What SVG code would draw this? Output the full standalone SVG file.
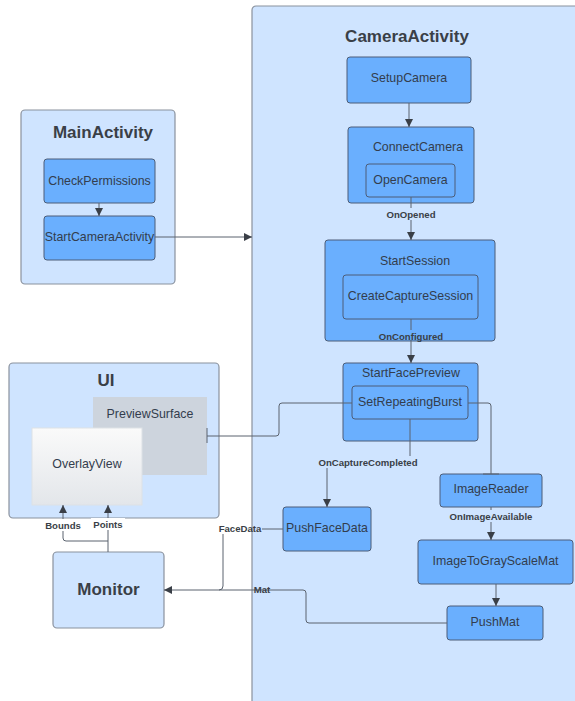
<svg xmlns="http://www.w3.org/2000/svg" width="575" height="701" viewBox="0 0 575 701">
<defs>
<marker id="arr" viewBox="0 0 10 10" refX="10" refY="5" markerWidth="8" markerHeight="8" markerUnits="userSpaceOnUse" orient="auto">
<path d="M0,0 L10,5 L0,10 z" fill="#3a3f47"/>
</marker>
<linearGradient id="ov" x1="0" y1="0" x2="0" y2="1">
<stop offset="0" stop-color="#fafafa"/>
<stop offset="1" stop-color="#e3e6ea"/>
</linearGradient>
<style>
.cont{fill:#cfe4ff;stroke:#8a929e;stroke-width:1.2}
.node{fill:#6aaffe;stroke:#4c5d78;stroke-width:1}
.inner{fill:#6aaffe;stroke:#4c5d78;stroke-width:1}
.title{font-family:"Liberation Sans",Arial,sans-serif;font-weight:bold;font-size:17px;fill:#3a3f47;text-anchor:middle}
.t{font-family:"Liberation Sans",Arial,sans-serif;font-size:12.4px;fill:#333d4d;text-anchor:middle;dominant-baseline:central}
.lbl{font-family:"Liberation Sans",Arial,sans-serif;font-weight:bold;font-size:9.6px;fill:#3a3f47;text-anchor:middle;dominant-baseline:central}
.c{fill:none;stroke:#5a626e;stroke-width:1}
.ca{fill:none;stroke:#5a626e;stroke-width:1;marker-end:url(#arr)}
</style>
</defs>
<rect width="575" height="701" fill="#ffffff"/>

<g id="CameraActivity">
<rect class="cont" x="252" y="6" width="340" height="720" rx="4"/>
<text class="title" x="407" y="42">CameraActivity</text>
</g>
<g id="MainActivity">
<rect class="cont" x="21" y="110" width="154" height="174" rx="4"/>
<text class="title" x="103" y="138">MainActivity</text>
</g>
<g id="UI">
<rect class="cont" x="9" y="363" width="210" height="155" rx="4"/>
<text class="title" x="106" y="386">UI</text>
</g>

<g id="CheckPermissions">
<rect class="node" x="44" y="159" width="111" height="44" rx="3"/>
<text class="t" x="99.5" y="181">CheckPermissions</text>
</g>
<g id="StartCameraActivity">
<rect class="node" x="44" y="216" width="111" height="44" rx="3"/>
<text class="t" x="99.5" y="237">StartCameraActivity</text>
</g>

<g id="PreviewSurface">
<rect x="93" y="397" width="114" height="78" fill="#cdd4dd"/>
<text class="t" x="150" y="414">PreviewSurface</text>
</g>
<g id="OverlayView">
<rect x="32" y="428" width="110" height="77" fill="url(#ov)" stroke="#dde1e6" stroke-width="1"/>
<text class="t" x="87" y="464">OverlayView</text>
</g>

<g id="Monitor">
<rect class="cont" x="53" y="552" width="111" height="76" rx="4" stroke="#5c6575"/>
<text class="title" x="108.5" y="595">Monitor</text>
</g>

<g id="SetupCamera">
<rect class="node" x="347" y="57" width="124" height="46" rx="3"/>
<text class="t" x="409" y="78">SetupCamera</text>
</g>
<g id="ConnectCamera">
<rect class="node" x="348" y="127" width="126" height="76" rx="3"/>
<text class="t" x="418" y="147">ConnectCamera</text>
</g>
<g id="OpenCamera">
<rect class="inner" x="366" y="164" width="89" height="33" rx="3"/>
<text class="t" x="410.5" y="180">OpenCamera</text>
</g>
<g id="StartSession">
<rect class="node" x="325" y="240" width="170" height="101" rx="3"/>
<text class="t" x="415" y="261">StartSession</text>
</g>
<g id="CreateCaptureSession">
<rect class="inner" x="343" y="275" width="135" height="44" rx="3"/>
<text class="t" x="410.5" y="296">CreateCaptureSession</text>
</g>
<g id="StartFacePreview">
<rect class="node" x="343" y="363" width="135" height="78" rx="3"/>
<text class="t" x="411" y="373">StartFacePreview</text>
</g>
<g id="SetRepeatingBurst">
<rect class="inner" x="352" y="386" width="116" height="33" rx="3"/>
<text class="t" x="410" y="402">SetRepeatingBurst</text>
</g>
<g id="PushFaceData">
<rect class="node" x="283" y="507" width="88" height="44" rx="3"/>
<text class="t" x="327" y="528">PushFaceData</text>
</g>
<g id="ImageReader">
<rect class="node" x="440" y="474" width="102" height="33" rx="3"/>
<text class="t" x="491" y="489">ImageReader</text>
</g>
<g id="ImageToGrayScaleMat">
<rect class="node" x="418" y="540" width="155" height="44" rx="3"/>
<text class="t" x="495.5" y="561">ImageToGrayScaleMat</text>
</g>
<g id="PushMat">
<rect class="node" x="447" y="606" width="96" height="34" rx="3"/>
<text class="t" x="495" y="622">PushMat</text>
</g>

<g id="connectors">
<path class="ca" d="M99,203 V216"/>
<path class="ca" d="M155,237 H252"/>
<path class="ca" d="M409,103 V127"/>
<path class="ca" d="M411,197 V240"/>
<path class="ca" d="M411,319 V363"/>
<path class="c" d="M352,403 H282 Q279,403 279,406 V433 Q279,436 276,436 H207"/>
<path class="c" d="M207,428 V443"/>
<path class="c" d="M468,403 H488 Q491,403 491,406 V474"/>
<path class="c" d="M483,474 H499"/>
<path class="ca" d="M410,419 V462 H327 V507"/>
<path class="ca" d="M491,507 V540"/>
<path class="ca" d="M496,584 V606"/>
<path class="ca" d="M447,623 H309 Q306,623 306,620 V593 Q306,590 303,590 H164"/>
<path class="c" d="M283,529 H262"/>
<path class="c" d="M223,534 V586 Q223,590 219,590"/>
<path class="ca" d="M108,552 V505"/>
<path class="ca" d="M108,541 H66 Q63,541 63,538 V505"/>

<rect x="393" y="208" width="36" height="12" fill="#cfe4ff"/>
<text class="lbl" x="411" y="214">OnOpened</text>
<rect x="377" y="330" width="68" height="10" fill="#6aaffe"/>
<text class="lbl" x="411" y="336">OnConfigured</text>
<rect x="318" y="456" width="100" height="12" fill="#cfe4ff"/>
<text class="lbl" x="368" y="462">OnCaptureCompleted</text>
<rect x="449" y="510" width="84" height="12" fill="#cfe4ff"/>
<text class="lbl" x="491" y="516">OnImageAvailable</text>
<text class="lbl" x="240" y="528">FaceData</text>
<text class="lbl" x="262" y="589">Mat</text>
<rect x="43" y="519" width="40" height="12" fill="#ffffff"/>
<text class="lbl" x="63" y="525">Bounds</text>
<rect x="91" y="518" width="34" height="12" fill="#ffffff"/>
<text class="lbl" x="108" y="524">Points</text>
</g>
</svg>
